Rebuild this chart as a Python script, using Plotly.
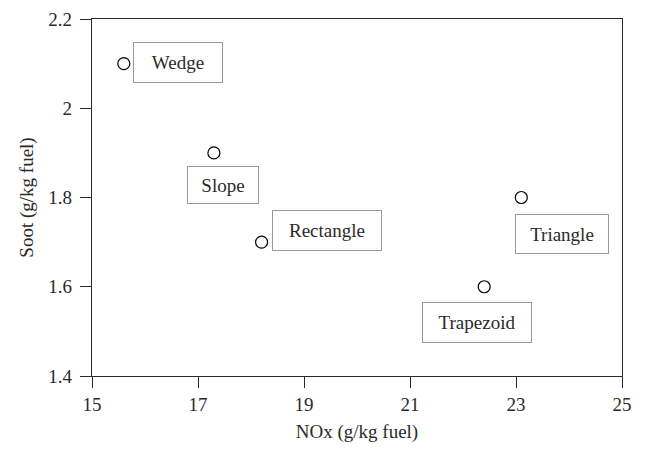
import plotly.graph_objects as go

# Soot vs NOx emissions per bowl geometry
shapes = ["Wedge", "Slope", "Rectangle", "Trapezoid", "Triangle"]
nox = [15.6, 17.3, 18.2, 22.4, 23.1]
soot = [2.1, 1.9, 1.7, 1.6, 1.8]

# label box centres (data units) and box sizes (px)
label_x = [16.62, 17.47, 19.43, 22.26, 23.87]
label_y = [2.103, 1.827, 1.726, 1.521, 1.719]
label_w = [86, 68, 106, 106, 90]
label_h = [37, 34, 37, 37, 36]

font_family = "Liberation Serif, DejaVu Serif, serif"
text_color = "#2a2a2a"

fig = go.Figure()
fig.add_trace(go.Scatter(
    x=nox, y=soot, mode="markers",
    marker=dict(symbol="circle-open", size=12, color="black", line=dict(width=1.2, color="black")),
    showlegend=False, hoverinfo="skip",
))

for name, lx, ly, w, h in zip(shapes, label_x, label_y, label_w, label_h):
    fig.add_annotation(
        x=lx, y=ly, xref="x", yref="y", text=name, showarrow=False,
        font=dict(family=font_family, size=19, color=text_color),
        bordercolor="#9a9a9a", borderwidth=1, borderpad=1,
        bgcolor="white", width=w, height=h, align="center", valign="middle",
    )

axis_common = dict(
    showgrid=False, zeroline=False, showline=True, linecolor="#2a2a2a", linewidth=1.2,
    mirror=True, ticks="outside", ticklen=11, tickwidth=1.2, tickcolor="#2a2a2a",
    tickfont=dict(family=font_family, size=19, color=text_color),
    automargin=False,
)

fig.update_layout(
    width=645, height=449,
    margin=dict(l=92, r=23, t=19, b=73),
    plot_bgcolor="white", paper_bgcolor="white",
    xaxis=dict(range=[15, 25], tickvals=[15, 17, 19, 21, 23, 25],
               title=dict(text="NOx (g/kg fuel)", font=dict(family=font_family, size=19, color=text_color), standoff=10),
               **axis_common),
    yaxis=dict(range=[1.4, 2.2], tickvals=[1.4, 1.6, 1.8, 2.0, 2.2],
               ticktext=["1.4", "1.6", "1.8", "2", "2.2"], ticklabelstandoff=4,
               title=dict(text="Soot (g/kg fuel)", font=dict(family=font_family, size=19, color=text_color), standoff=9),
               **axis_common),
)

fig.write_html("out.html")
